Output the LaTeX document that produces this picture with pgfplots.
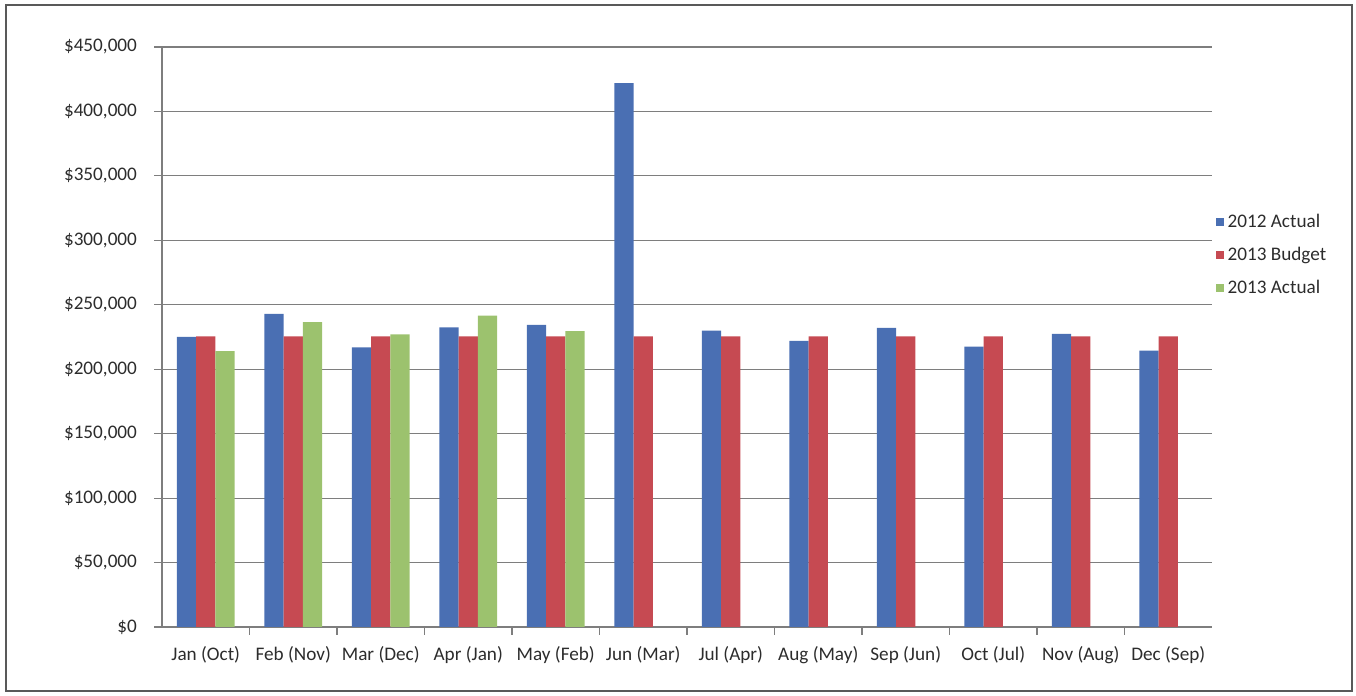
\documentclass[border=0pt]{standalone}
\usepackage{pgfplots}
\pgfplotsset{compat=1.18}
\usepackage{fontspec}
\setmainfont{Carlito}

\definecolor{actualA}{HTML}{4A6FB3}
\definecolor{budgetB}{HTML}{C64A52}
\definecolor{actualC}{HTML}{9CC26E}
\definecolor{gridgray}{HTML}{7E7E7E}
\definecolor{labelgray}{HTML}{2C2C2C}

\begin{document}
\begin{tikzpicture}
\useasboundingbox (0,0) rectangle (678pt,348pt);
% chart area frame
\draw[gray!70!black, line width=0.6pt] (3pt,2.5pt) rectangle (676pt,345.5pt);
\begin{axis}[
  at={(81pt,34.5pt)}, anchor=south west,
  scale only axis, width=525pt, height=290pt,
  ybar=0pt, bar width=9.6pt,
  xmin=-0.5, xmax=11.5,
  ymin=0, ymax=450000,
  axis x line*=bottom, axis y line*=left,
  axis line style={gridgray, line width=0.6pt, -},
  xtick={0,...,11},
  xticklabels={Jan (Oct),Feb (Nov),Mar (Dec),Apr (Jan),May (Feb),Jun (Mar),Jul (Apr),Aug (May),Sep (Jun),Oct (Jul),Nov (Aug),Dec (Sep)},
  major x tick style={draw=none},
  minor xtick={0.5,1.5,...,10.5},
  minor x tick style={gridgray, line width=0.6pt},
  minor tick length=4pt,
  ytick={0,50000,...,450000},
  scaled y ticks=false,
  yticklabels={{\$0},{\$50,000},{\$100,000},{\$150,000},{\$200,000},{\$250,000},{\$300,000},{\$350,000},{\$400,000},{\$450,000}},
  major y tick style={gridgray, line width=0.6pt},
  major tick length=4pt,
  tick align=outside,
  ymajorgrids,
  grid style={gridgray, line width=0.6pt},
  ticklabel style={font=\fontsize{9.6}{11}\selectfont, text=labelgray},
  yticklabel style={xshift=-5pt},
  xticklabel style={yshift=-2pt},
  /pgf/number format/assume math mode=true,
  legend cell align=left,
  legend style={draw=none, fill=none, at={(1.003,0.641)}, anchor=west,
    font=\fontsize{9.6}{11}\selectfont, text=labelgray,
    row sep=4.2pt, inner sep=0pt},
  legend image code/.code={\fill[#1] (0pt,-2pt) rectangle (4pt,2pt);},
]
\addplot[fill=actualA, draw=none] coordinates {
  (0,225000) (1,243000) (2,217000) (3,232500) (4,234500) (5,422000)
  (6,230000) (7,222000) (8,232000) (9,217500) (10,227500) (11,214500)};
\addlegendentry{2012 Actual}
\addplot[fill=budgetB, draw=none] coordinates {
  (0,225500) (1,225500) (2,225500) (3,225500) (4,225500) (5,225500)
  (6,225500) (7,225500) (8,225500) (9,225500) (10,225500) (11,225500)};
\addlegendentry{2013 Budget}
\addplot[fill=actualC, draw=none] coordinates {
  (0,214000) (1,236500) (2,227000) (3,241500) (4,229500)};
\addlegendentry{2013 Actual}
\end{axis}
\end{tikzpicture}
\end{document}
